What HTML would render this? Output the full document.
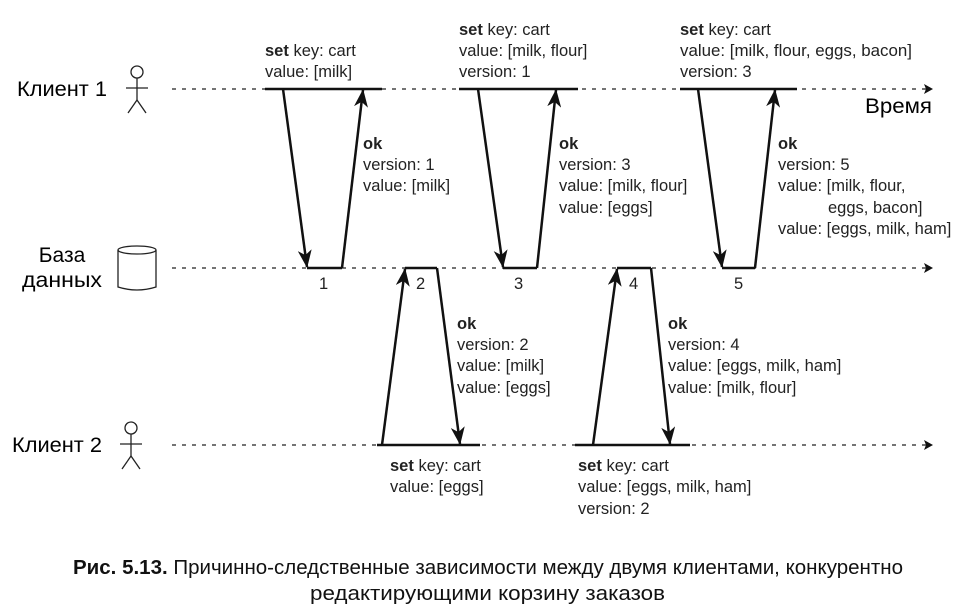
<!DOCTYPE html>
<html><head><meta charset="utf-8"><style>
html,body{margin:0;padding:0;background:#fff;}
svg{display:block;}
.t{font-family:"Liberation Sans",sans-serif;font-size:16.5px;fill:#222;}
.b{font-weight:bold;}
.big{font-family:"Liberation Sans",sans-serif;font-size:21px;fill:#000;}
.cap{font-family:"Liberation Sans",sans-serif;font-size:20px;fill:#111;}
</style></head><body>
<svg width="976" height="612" viewBox="0 0 976 612" xmlns="http://www.w3.org/2000/svg">
<defs>
<marker id="ah" markerWidth="18" markerHeight="14" refX="17" refY="7" orient="auto" markerUnits="userSpaceOnUse" viewBox="0 0 18 14">
<path d="M0,0 L18,7 L0,14 L5,7 z" fill="#111"/></marker>
<marker id="sm" markerWidth="9" markerHeight="10" refX="8" refY="5" orient="auto" markerUnits="userSpaceOnUse" viewBox="0 0 9 10">
<path d="M0,0 L9,5 L0,10 L2,5 z" fill="#111"/></marker>
</defs>
<g stroke="#222" stroke-width="1.3" stroke-dasharray="4,6" fill="none">
<line x1="172" y1="89" x2="932" y2="89" marker-end="url(#sm)"/>
<line x1="172" y1="268" x2="932" y2="268" marker-end="url(#sm)"/>
<line x1="172" y1="445" x2="932" y2="445" marker-end="url(#sm)"/>
</g>
<g stroke="#111" stroke-width="2.5" fill="none">
<line x1="265" y1="89" x2="382" y2="89"/>
<line x1="459" y1="89" x2="578" y2="89"/>
<line x1="680" y1="89" x2="797" y2="89"/>
<line x1="377" y1="445" x2="480" y2="445"/>
<line x1="575" y1="445" x2="690" y2="445"/>
<line x1="307" y1="268" x2="342" y2="268"/>
<line x1="405" y1="268" x2="437" y2="268"/>
<line x1="503" y1="268" x2="537" y2="268"/>
<line x1="617" y1="268" x2="651" y2="268"/>
<line x1="722" y1="268" x2="755" y2="268"/>
<line x1="342" y1="268" x2="363" y2="90" marker-end="url(#ah)"/>
<line x1="283" y1="89" x2="307" y2="267" marker-end="url(#ah)"/>
<line x1="478" y1="89" x2="503" y2="267" marker-end="url(#ah)"/>
<line x1="537" y1="268" x2="556" y2="90" marker-end="url(#ah)"/>
<line x1="698" y1="89" x2="722" y2="267" marker-end="url(#ah)"/>
<line x1="755" y1="268" x2="775" y2="90" marker-end="url(#ah)"/>
<line x1="382" y1="445" x2="405" y2="269" marker-end="url(#ah)"/>
<line x1="437" y1="268" x2="460" y2="444" marker-end="url(#ah)"/>
<line x1="593" y1="445" x2="617" y2="269" marker-end="url(#ah)"/>
<line x1="651" y1="268" x2="670" y2="444" marker-end="url(#ah)"/>
</g>
<g stroke="#222" stroke-width="1.3" fill="none">
<circle cx="137" cy="72" r="6"/>
<line x1="137" y1="78" x2="137" y2="100"/><line x1="126" y1="88" x2="148" y2="88"/>
<line x1="137" y1="100" x2="128" y2="113"/><line x1="137" y1="100" x2="146" y2="113"/>
<circle cx="131" cy="428" r="6"/>
<line x1="131" y1="434" x2="131" y2="456"/><line x1="120" y1="444" x2="142" y2="444"/>
<line x1="131" y1="456" x2="122" y2="469"/><line x1="131" y1="456" x2="140" y2="469"/>
<ellipse cx="137" cy="250" rx="19" ry="4"/>
<path d="M118,250 L118,287 Q137,293 156,287 L156,250"/>
</g>
<text class="big" x="17" y="96" textLength="90" lengthAdjust="spacingAndGlyphs">Клиент 1</text>
<text class="big" x="12" y="452" textLength="90" lengthAdjust="spacingAndGlyphs">Клиент 2</text>
<text class="big" x="62" y="262" text-anchor="middle">База</text>
<text class="big" x="62" y="287" text-anchor="middle" textLength="80" lengthAdjust="spacingAndGlyphs">данных</text>
<text class="big" x="865" y="113" textLength="67" lengthAdjust="spacingAndGlyphs">Время</text>
<g class="t">
<text x="265" y="56"><tspan class="b">set</tspan> key: cart</text>
<text x="265" y="77">value: [milk]</text>
<text x="459" y="35"><tspan class="b">set</tspan> key: cart</text>
<text x="459" y="56">value: [milk, flour]</text>
<text x="459" y="77">version: 1</text>
<text x="680" y="35"><tspan class="b">set</tspan> key: cart</text>
<text x="680" y="56" textLength="232" lengthAdjust="spacingAndGlyphs">value: [milk, flour, eggs, bacon]</text>
<text x="680" y="77">version: 3</text>
<text x="363" y="149" class="b">ok</text>
<text x="363" y="170">version: 1</text>
<text x="363" y="191">value: [milk]</text>
<text x="559" y="149" class="b">ok</text>
<text x="559" y="170">version: 3</text>
<text x="559" y="191">value: [milk, flour]</text>
<text x="559" y="213">value: [eggs]</text>
<text x="778" y="149" class="b">ok</text>
<text x="778" y="170">version: 5</text>
<text x="778" y="191">value: [milk, flour,</text>
<text x="828" y="213">eggs, bacon]</text>
<text x="778" y="234">value: [eggs, milk, ham]</text>
<text x="457" y="329" class="b">ok</text>
<text x="457" y="350">version: 2</text>
<text x="457" y="371">value: [milk]</text>
<text x="457" y="393">value: [eggs]</text>
<text x="668" y="329" class="b">ok</text>
<text x="668" y="350">version: 4</text>
<text x="668" y="371">value: [eggs, milk, ham]</text>
<text x="668" y="393">value: [milk, flour]</text>
<text x="390" y="471"><tspan class="b">set</tspan> key: cart</text>
<text x="390" y="492">value: [eggs]</text>
<text x="578" y="471"><tspan class="b">set</tspan> key: cart</text>
<text x="578" y="492">value: [eggs, milk, ham]</text>
<text x="578" y="514">version: 2</text>
<text x="319" y="289">1</text>
<text x="416" y="289">2</text>
<text x="514" y="289">3</text>
<text x="629" y="289">4</text>
<text x="734" y="289">5</text>
</g>
<text class="cap" x="73" y="574" textLength="830" lengthAdjust="spacingAndGlyphs"><tspan font-weight="bold">Рис. 5.13.</tspan> Причинно-следственные зависимости между двумя клиентами, конкурентно</text>
<text class="cap" x="310" y="600" textLength="355" lengthAdjust="spacingAndGlyphs">редактирующими корзину заказов</text>
</svg>
</body></html>
